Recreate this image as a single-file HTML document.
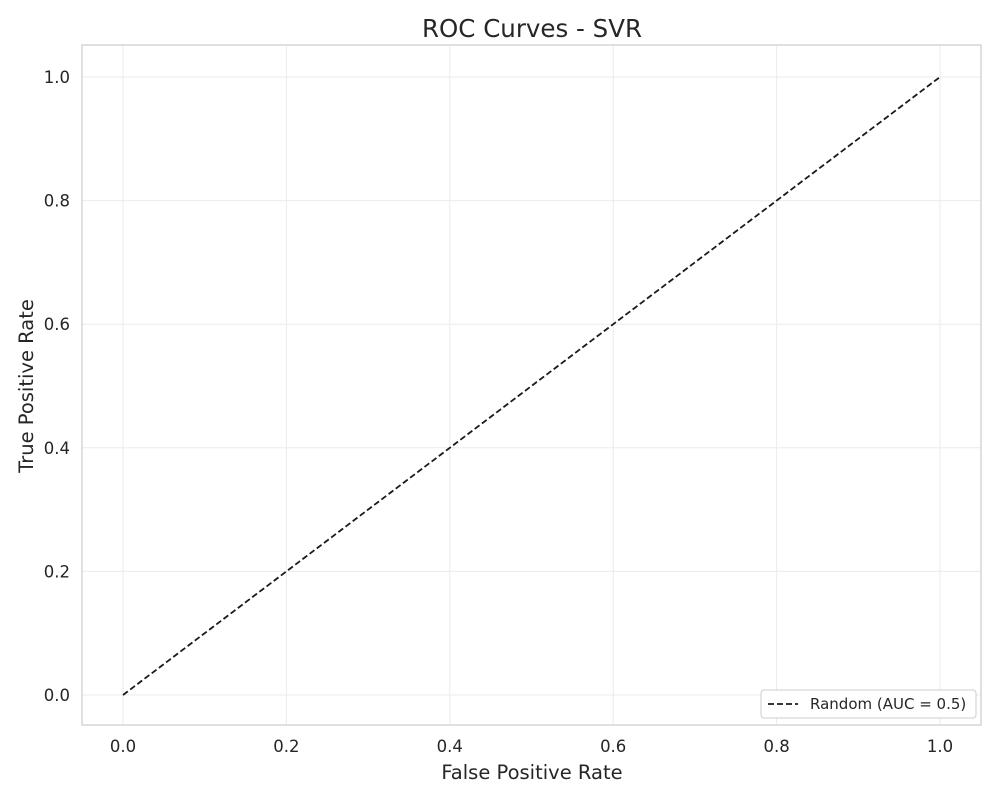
<!DOCTYPE html>
<html><head><meta charset="utf-8"><style>
body{margin:0;background:#fff;font-family:"DejaVu Sans","Liberation Sans",sans-serif}
svg text{font-family:"DejaVu Sans","Liberation Sans",sans-serif}
</style></head><body>
<svg width="1000" height="800" xmlns="http://www.w3.org/2000/svg">
<text x="532" y="37" font-size="24.5" text-anchor="middle" fill="#262626">ROC Curves - SVR</text>
<g id="grid"></g>
<rect x="82" y="45" width="899" height="680" fill="none" stroke="#ccc" stroke-width="1.2"/>
<g id="ticks"></g>
<path id="diag" fill="none" stroke="#1a1a1a" stroke-width="1.8" stroke-dasharray="6,3"/>
<text x="532" y="779" font-size="19.5" text-anchor="middle" fill="#262626">False Positive Rate</text>
<text transform="translate(33,386) rotate(-90)" font-size="19.5" text-anchor="middle" fill="#262626">True Positive Rate</text>
<g>
<rect x="761" y="690" width="215" height="28" rx="3" fill="#fff" stroke="#ccc"/>
<line x1="768" y1="704" x2="798" y2="704" stroke="#1a1a1a" stroke-width="1.8" stroke-dasharray="6,3"/>
<text x="810" y="709" font-size="15" fill="#262626">Random (AUC = 0.5)</text>
</g>
</svg>
<script>
const ticks=[0,0.2,0.4,0.6,0.8,1.0];
const tickLabels=["0.0","0.2","0.4","0.6","0.8","1.0"];
const randX=[0,1];
const randY=[0,1];
const sx=v=>123+v*817, sy=v=>695-v*618;
const NS="http://www.w3.org/2000/svg";
const g=document.getElementById('grid'),t=document.getElementById('ticks');
ticks.forEach((v,i)=>{
 let l=document.createElementNS(NS,'line');
 
 
 l.setAttribute('x1',sx(v));l.setAttribute('x2',sx(v));l.setAttribute('y1',45);l.setAttribute('y2',725);l.setAttribute('stroke','#ebebeb');g.appendChild(l);
 l=document.createElementNS(NS,'line');
 
 
 l.setAttribute('y1',sy(v));l.setAttribute('y2',sy(v));l.setAttribute('x1',82);l.setAttribute('x2',981);l.setAttribute('stroke','#ebebeb');g.appendChild(l);
 let a=document.createElementNS(NS,'text');
 
 
 a.setAttribute('x',sx(v));a.setAttribute('y',752);a.setAttribute('font-size','16.5');a.setAttribute('text-anchor','middle');a.setAttribute('fill','#262626');a.textContent=tickLabels[i];t.appendChild(a);
 a=document.createElementNS(NS,'text');
 
 
 a.setAttribute('x',70);a.setAttribute('y',sy(v)+6);a.setAttribute('font-size','16.5');a.setAttribute('text-anchor','end');a.setAttribute('fill','#262626');a.textContent=tickLabels[i];t.appendChild(a);
});
document.getElementById('diag').setAttribute('d',randX.map((x,i)=>(i?'L':'M')+sx(x)+','+sy(randY[i])).join(' '));
</script>
</body></html>
